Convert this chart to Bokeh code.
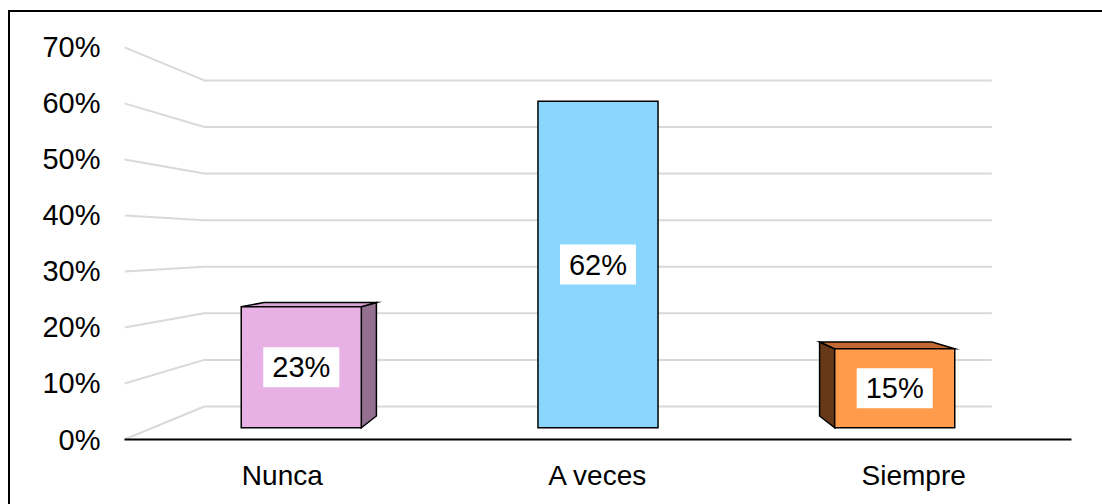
from bokeh.plotting import figure
from bokeh.models import Range1d, FixedTicker, InlineStyleSheet
from bokeh.core.properties import value
from bokeh.embed import file_html
from bokeh.resources import INLINE

# ---- data -------------------------------------------------------------
categories = ["Nunca", "A veces", "Siempre"]
percentages = [0.23, 0.62, 0.15]
value_labels = ["23%", "62%", "15%"]
y_ticks = [0.0, 0.1, 0.2, 0.3, 0.4, 0.5, 0.6, 0.7]
y_tick_labels = ["0%", "10%", "20%", "30%", "40%", "50%", "60%", "70%"]

# ---- style ------------------------------------------------------------
front_colors = ["#E8B1E5", "#8AD6FF", "#FF9B4B"]
side_colors = ["#93708F", "#5C8FAA", "#683918"]
top_colors = ["#D9A3D6", "#6FB4DA", "#C26A30"]
FONT = "Liberation Sans"
GRID_COLOR = "#D9D9D9"

# perspective set-up (data units): vanishing point and depth scales
VP_X, VP_Y = 1.5, 0.35
S_WALL_BACK = 0.8316   # back wall plane
S_BAR_FRONT = 0.94     # front face of the columns
S_BAR_BACK = 0.88      # rear face of the columns
HALF_W = 0.2023        # half column width
X_MIN, X_MAX = 0.0, 3.0


def proj(x, y, s):
    """Project a point of the front plane to depth scale s."""
    return VP_X + (x - VP_X) * s, VP_Y + (y - VP_Y) * s


# outer chart frame drawn around the plot canvas
frame_css = InlineStyleSheet(css="""
:host { position: relative; }
:host::after {
  content: "";
  position: absolute;
  left: 8px; top: 10px; width: 1094px; height: 494px;
  box-sizing: border-box;
  border-top: 2px solid #000; border-left: 2px solid #000;
  pointer-events: none;
}
""")

p = figure(width=1102, height=504, output_backend="svg", toolbar_location=None,
           x_range=Range1d(X_MIN, X_MAX), y_range=Range1d(0, 0.748),
           min_border_left=124, min_border_right=31, min_border_top=20,
           min_border_bottom=65, stylesheets=[frame_css])
p.outline_line_color = None
p.background_fill_color = "white"
p.border_fill_color = "white"
p.xgrid.visible = False
p.ygrid.visible = False

# ---- walls: side wall + back wall gridlines --------------------------
gx, gy = [], []
for t in y_ticks:
    x0, y0 = proj(X_MIN, t, 1.0)
    x1, y1 = proj(X_MIN, t, S_WALL_BACK)
    x2, y2 = proj(X_MAX, t, S_WALL_BACK)
    gx.append([x0, x1, x2])
    gy.append([y0, y1, y2])
p.multi_line(gx, gy, line_color=GRID_COLOR, line_width=2)

# ---- columns ----------------------------------------------------------
front_x, front_y, side_x, side_y, side_c, top_x, top_y, top_c = [], [], [], [], [], [], [], []
label_x, label_y = [], []
for i, v in enumerate(percentages):
    c = i + 0.5
    l, r = c - HALF_W, c + HALF_W
    # front face
    pts = [proj(l, 0, S_BAR_FRONT), proj(r, 0, S_BAR_FRONT),
           proj(r, v, S_BAR_FRONT), proj(l, v, S_BAR_FRONT)]
    front_x.append([q[0] for q in pts])
    front_y.append([q[1] for q in pts])
    # visible side face
    edge = None
    if r < VP_X:
        edge = r
    elif l > VP_X:
        edge = l
    if edge is not None:
        pts = [proj(edge, 0, S_BAR_FRONT), proj(edge, v, S_BAR_FRONT),
               proj(edge, v, S_BAR_BACK), proj(edge, 0, S_BAR_BACK)]
        side_x.append([q[0] for q in pts])
        side_y.append([q[1] for q in pts])
        side_c.append(side_colors[i])
    # visible top face
    if v < VP_Y:
        pts = [proj(l, v, S_BAR_FRONT), proj(r, v, S_BAR_FRONT),
               proj(r, v, S_BAR_BACK), proj(l, v, S_BAR_BACK)]
        top_x.append([q[0] for q in pts])
        top_y.append([q[1] for q in pts])
        top_c.append(top_colors[i])
    lx, ly = proj(c, v / 2, S_BAR_FRONT)
    label_x.append(lx)
    label_y.append(ly)

p.patches(side_x, side_y, fill_color=side_c, line_color="black", line_width=1.5,
          line_join="miter")
p.patches(top_x, top_y, fill_color=top_c, line_color="black", line_width=1.5,
          line_join="miter")
p.patches(front_x, front_y, fill_color=front_colors, line_color="black",
          line_width=1.5, line_join="miter")

p.text(label_x, label_y, text=value_labels, text_font=value(FONT),
       text_font_size="29px", text_color="black", text_align="center",
       text_baseline="middle", background_fill_color="white",
       padding=dict(left=9, right=9, top=4, bottom=4))

# ---- axes -------------------------------------------------------------
p.yaxis.ticker = FixedTicker(ticks=y_ticks)
p.yaxis.major_label_overrides = {t: s for t, s in zip(y_ticks, y_tick_labels)}
p.yaxis.axis_line_color = None
p.yaxis.major_tick_line_color = None
p.yaxis.minor_tick_line_color = None
p.yaxis.major_tick_out = 0
p.yaxis.major_tick_in = 0
p.yaxis.major_label_standoff = 24
p.yaxis.major_label_text_font = FONT
p.yaxis.major_label_text_font_size = "29px"
p.yaxis.major_label_text_color = "black"

x_ticks = [i + 0.5 for i in range(len(categories))]
p.xaxis.ticker = FixedTicker(ticks=x_ticks)
p.xaxis.major_label_overrides = {t: s for t, s in zip(x_ticks, categories)}
p.xaxis.axis_line_color = "black"
p.xaxis.axis_line_width = 2
p.xaxis.major_tick_line_color = None
p.xaxis.minor_tick_line_color = None
p.xaxis.major_tick_out = 0
p.xaxis.major_tick_in = 0
p.xaxis.major_label_standoff = 20
p.xaxis.major_label_text_font = FONT
p.xaxis.major_label_text_font_size = "28px"
p.xaxis.major_label_text_color = "black"

open("out.html", "w").write(file_html(p, INLINE))
